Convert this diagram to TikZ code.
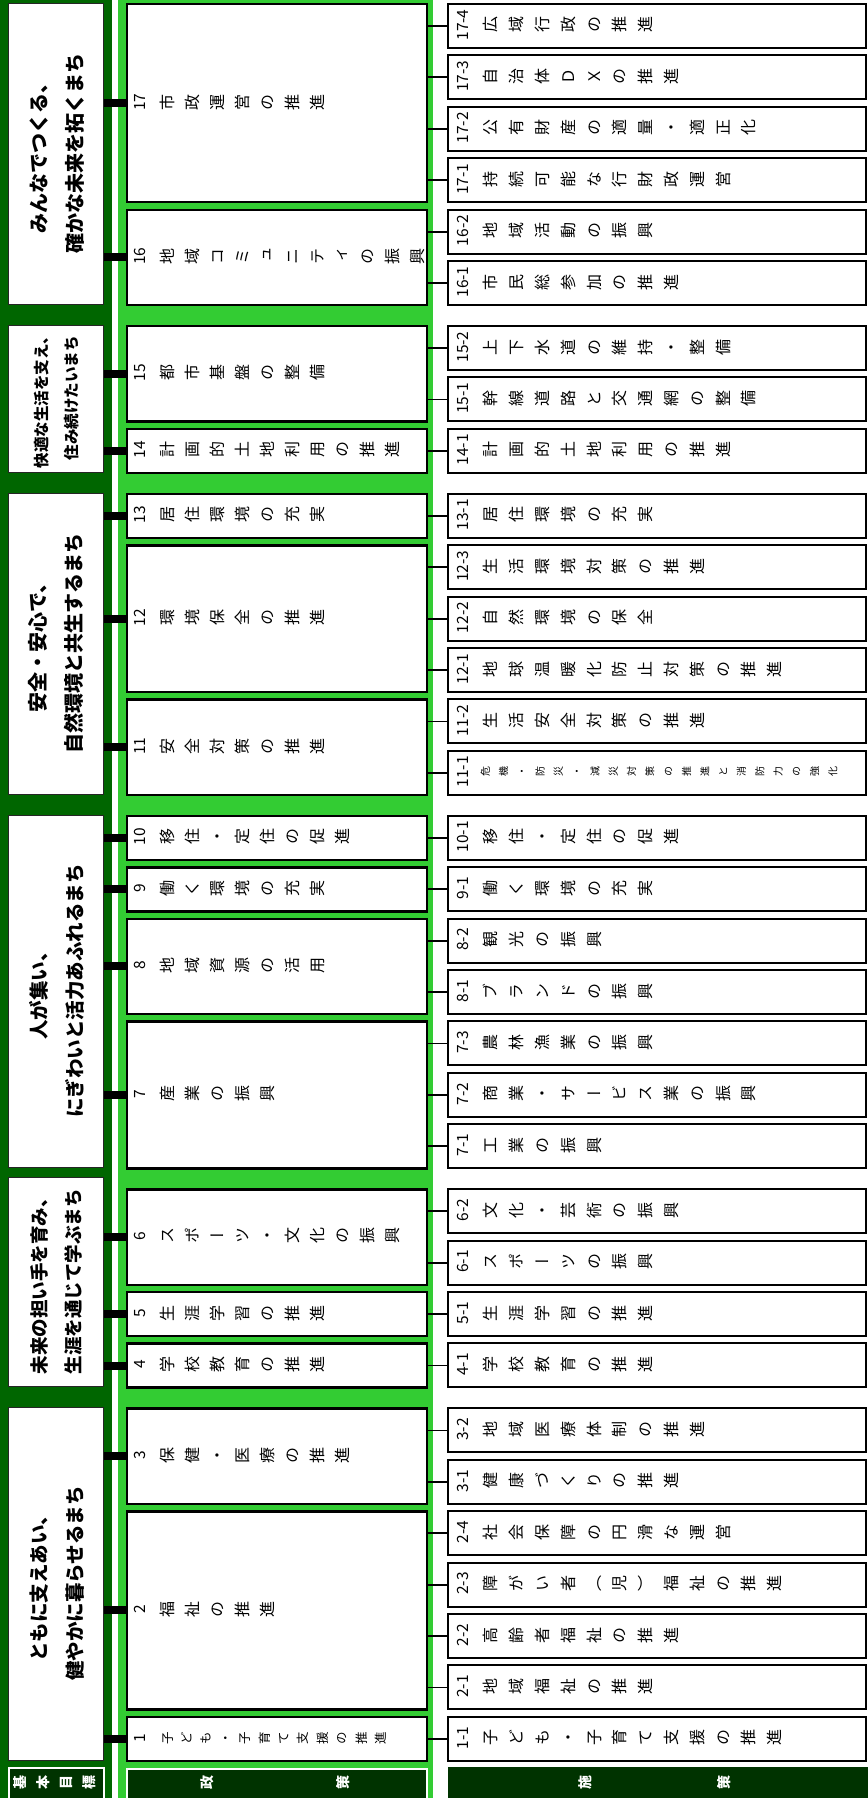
\documentclass[tikz,border=0pt]{standalone}
\usepackage{fontspec}
\newfontfamily\jp{Noto Sans CJK JP}
\newfontfamily\jpv{Noto Sans CJK JP}[RawFeature=+vert]
\usetikzlibrary{calc}
\definecolor{darkg}{RGB}{0,102,0}
\definecolor{lightg}{RGB}{51,204,51}
\definecolor{hdrg}{RGB}{0,51,0}
\newcommand\jstrut{\rule[-0.12em]{0pt}{1em}}
\makeatletter
\def\mk@end{\mk@end}
\newcommand\mkstack[1]{\def\stk{}\mk@loop#1\mk@end}
\def\mk@loop#1{%
  \ifx#1\mk@end\else
    \ifx\stk\@empty\def\stk{\jstrut#1}%
    \else\expandafter\def\expandafter\stk\expandafter{\stk\\\jstrut#1}%
    \fi
    \expandafter\mk@loop
  \fi}
\makeatother
\def\pfs{16}\def\pbs{25}\def\mypx{159.5}
\def\sfs{16}\def\sbs{25.8}\def\mysx{482.7}
\tikzset{
  gbox/.style={draw=black!85, line width=1pt, fill=white, minimum width=95pt, inner sep=0pt},
  pbox/.style={draw=black, line width=2.3pt, fill=white, minimum width=300pt, inner sep=0pt},
  sbox/.style={draw=black, line width=2pt, fill=white, minimum width=418pt, minimum height=44pt, inner sep=0pt},
  thickc/.style={line width=8pt, black},
  thinc/.style={line width=1.8pt, black},
  numtxt/.style={font=\jp\fontsize{15.5}{18}\selectfont, inner sep=0pt},
  gtxt/.style={align=center, inner sep=0pt},
  pch/.style={font=\jpv\fontsize{\pfs}{\pbs}\selectfont, align=center, inner sep=0pt},
  sch/.style={font=\jpv\fontsize{\sfs}{\sbs}\selectfont, align=center, inner sep=0pt},
  hcell/.style={draw=white, line width=1.5pt, fill=hdrg, inner sep=0pt, minimum height=34pt},
  htxt/.style={text=white, inner sep=0pt, align=center},
}
\newcommand\goalbox[8]{%
  \pgfmathsetmacro\myh{#3-#2}\pgfmathsetmacro\myc{(#2+#3)/2}%
  \node[gbox, minimum height=\myh pt, anchor=north west] (g#1) at (8,#2) {};
  \node[gtxt, rotate=90, font=\jp\bfseries\fontsize{#4}{#5}\selectfont] (gt#1) at (#8,\myc) {#6\\#7};
}
\newcommand\policy[7]{%
  \pgfmathsetmacro\mya{3+51.4*#2+13.6*#3}%
  \pgfmathsetmacro\myb{3+51.4*#4+13.6*#3+44}%
  \pgfmathsetmacro\myh{\myb-\mya}%
  \pgfmathsetmacro\myc{(\mya+\myb)/2}%
  \node[pbox, minimum height=\myh pt, anchor=north west] (p#1) at (126,\mya) {};
  \draw[thickc] (g#7.east |- p#1.west) -- (p#1.west);
  \node[numtxt, rotate=90] (pn#1) at (140,\myc) {#5};
  \mkstack{#6}%
  \node[pch, rotate=90, anchor=north] (pt#1) at (\mypx,\myc) {\stk};
}
\newcommand\shisaku[6]{%
  \pgfmathsetmacro\myt{3+51.4*#2+13.6*#3}%
  \pgfmathsetmacro\mytc{\myt+22}%
  \node[sbox, anchor=north west] (s#1) at (447,\myt) {};
  \draw[thinc] (p#6.east |- s#1.west) -- (s#1.west);
  \node[numtxt, rotate=90] (sn#1) at (463,\mytc) {#4};
  \mkstack{#5}%
  \node[sch, rotate=90, anchor=north] (st#1) at (\mysx,\mytc) {\stk};
}
\begin{document}
\begin{tikzpicture}[x=1pt,y=-1pt]
\useasboundingbox (0,0) rectangle (867,1798);
\fill[white] (0,0) rectangle (867,1798);
\fill[darkg] (0,0) rectangle (112,1798);
\fill[lightg] (118,0) rectangle (433,1798);
% goals
\goalbox{A}{3}{304}{20}{36}{みんなでつくる、}{確かな未来を拓くまち}{57}
\goalbox{B}{325}{471.8}{15.5}{30}{快適な生活を支え、}{住み続けたいまち}{56.5}
\goalbox{C}{492.8}{793.8}{20}{36}{安全・安心で、}{自然環境と共生するまち}{56}
\goalbox{D}{814.8}{1167.2}{19.5}{36}{人が集い、}{にぎわいと活力あふれるまち}{56.5}
\goalbox{E}{1177}{1386.4}{18.5}{34}{未来の担い手を育み、}{生涯を通じて学ぶまち}{56.5}
\goalbox{F}{1407.4}{1759.8}{19.5}{36}{ともに支えあい、}{健やかに暮らせるまち}{57}
% policies
\policy{17}{0}{0}{3}{17}{市政運営の推進}{A}
\policy{16}{4}{0}{5}{16}{地域コミュニティの振興}{A}
\policy{15}{6}{1}{7}{15}{都市基盤の整備}{B}
\policy{14}{8}{1}{8}{14}{計画的土地利用の推進}{B}
\policy{13}{9}{2}{9}{13}{居住環境の充実}{C}
\policy{12}{10}{2}{12}{12}{環境保全の推進}{C}
\policy{11}{13}{2}{14}{11}{安全対策の推進}{C}
\policy{10}{15}{3}{15}{10}{移住・定住の促進}{D}
\policy{9}{16}{3}{16}{9}{働く環境の充実}{D}
\policy{8}{17}{3}{18}{8}{地域資源の活用}{D}
\policy{7}{19}{3}{21}{7}{産業の振興}{D}
\policy{6}{22}{4}{23}{6}{スポーツ・文化の振興}{E}
\policy{5}{24}{4}{24}{5}{生涯学習の推進}{E}
\policy{4}{25}{4}{25}{4}{学校教育の推進}{E}
\policy{3}{26}{5}{27}{3}{保健・医療の推進}{F}
\policy{2}{28}{5}{31}{2}{福祉の推進}{F}
{\def\pfs{12.5}\def\pbs{19.4}\def\mypx{160.8}\policy{1}{32}{5}{32}{1}{子ども・子育て支援の推進}{F}}
% measures
\shisaku{17x4}{0}{0}{17-4}{広域行政の推進}{17}
\shisaku{17x3}{1}{0}{17-3}{自治体ＤＸの推進}{17}
\shisaku{17x2}{2}{0}{17-2}{公有財産の適量・適正化}{17}
\shisaku{17x1}{3}{0}{17-1}{持続可能な行財政運営}{17}
\shisaku{16x2}{4}{0}{16-2}{地域活動の振興}{16}
\shisaku{16x1}{5}{0}{16-1}{市民総参加の推進}{16}
\shisaku{15x2}{6}{1}{15-2}{上下水道の維持・整備}{15}
\shisaku{15x1}{7}{1}{15-1}{幹線道路と交通網の整備}{15}
\shisaku{14x1}{8}{1}{14-1}{計画的土地利用の推進}{14}
\shisaku{13x1}{9}{2}{13-1}{居住環境の充実}{13}
\shisaku{12x3}{10}{2}{12-3}{生活環境対策の推進}{12}
\shisaku{12x2}{11}{2}{12-2}{自然環境の保全}{12}
\shisaku{12x1}{12}{2}{12-1}{地球温暖化防止対策の推進}{12}
\shisaku{11x2}{13}{2}{11-2}{生活安全対策の推進}{11}
{\def\sfs{10}\def\sbs{18.3}\def\mysx{480}\shisaku{11x1}{14}{2}{11-1}{危機・防災・減災対策の推進と消防力の強化}{11}}
\shisaku{10x1}{15}{3}{10-1}{移住・定住の促進}{10}
\shisaku{9x1}{16}{3}{9-1}{働く環境の充実}{9}
\shisaku{8x2}{17}{3}{8-2}{観光の振興}{8}
\shisaku{8x1}{18}{3}{8-1}{ブランドの振興}{8}
\shisaku{7x3}{19}{3}{7-3}{農林漁業の振興}{7}
\shisaku{7x2}{20}{3}{7-2}{商業・サービス業の振興}{7}
\shisaku{7x1}{21}{3}{7-1}{工業の振興}{7}
\shisaku{6x2}{22}{4}{6-2}{文化・芸術の振興}{6}
\shisaku{6x1}{23}{4}{6-1}{スポーツの振興}{6}
\shisaku{5x1}{24}{4}{5-1}{生涯学習の推進}{5}
\shisaku{4x1}{25}{4}{4-1}{学校教育の推進}{4}
\shisaku{3x2}{26}{5}{3-2}{地域医療体制の推進}{3}
\shisaku{3x1}{27}{5}{3-1}{健康づくりの推進}{3}
\shisaku{2x4}{28}{5}{2-4}{社会保障の円滑な運営}{2}
\shisaku{2x3}{29}{5}{2-3}{障がい者（児）福祉の推進}{2}
\shisaku{2x2}{30}{5}{2-2}{高齢者福祉の推進}{2}
\shisaku{2x1}{31}{5}{2-1}{地域福祉の推進}{2}
\shisaku{1x1}{32}{5}{1-1}{子ども・子育て支援の推進}{1}
% header row
\node[hcell, minimum width=95pt, anchor=north west] (h1) at (8,1767) {};
\node[hcell, minimum width=300pt, anchor=north west] (h2) at (126,1768) {};
\node[hcell, draw=none, minimum width=425pt, anchor=north west] (h3) at (447,1766) {};
\mkstack{基本目標}
\node[htxt, rotate=90, anchor=north, font=\jpv\bfseries\fontsize{14}{23}\selectfont] (ht1) at (13,1782.5) {\stk};
\node[htxt, rotate=90, font=\jpv\bfseries\fontsize{14}{16}\selectfont] (ht2a) at (207,1782) {政};
\node[htxt, rotate=90, font=\jpv\bfseries\fontsize{14}{16}\selectfont] (ht2b) at (343,1782) {策};
\node[htxt, rotate=90, font=\jpv\bfseries\fontsize{14}{16}\selectfont] (ht3a) at (585,1782) {施};
\node[htxt, rotate=90, font=\jpv\bfseries\fontsize{14}{16}\selectfont] (ht3b) at (724,1782) {策};
\end{tikzpicture}
\end{document}
